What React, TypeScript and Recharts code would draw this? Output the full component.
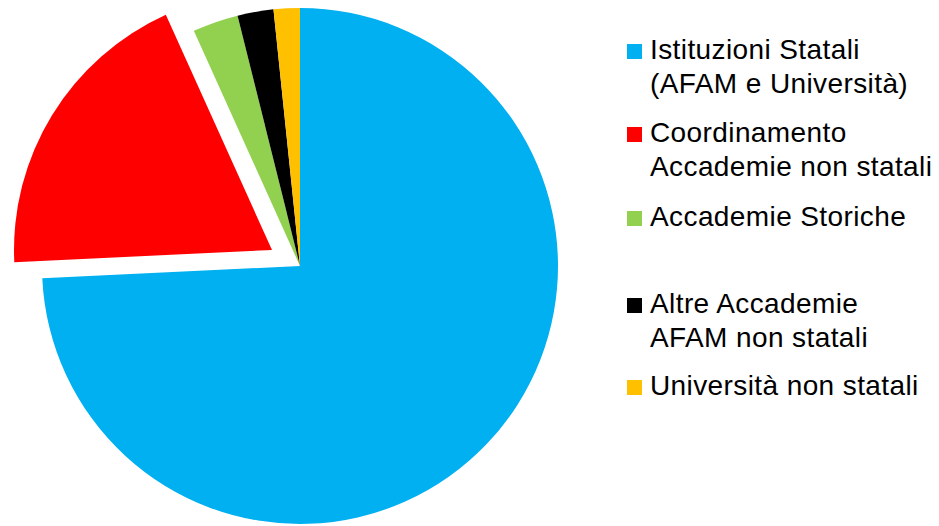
import React from 'react';
import { PieChart, Pie, Cell } from 'recharts';

const categories = [
  'Istituzioni Statali (AFAM e Università)',
  'Coordinamento Accademie non statali',
  'Accademie Storiche',
  'Altre Accademie AFAM non statali',
  'Università non statali',
];

// legend labels as they wrap in the original
const legendLines = [
  ['Istituzioni Statali', '(AFAM e Università)'],
  ['Coordinamento', 'Accademie non statali'],
  ['Accademie Storiche'],
  ['Altre Accademie', 'AFAM non statali'],
  ['Università non statali'],
];

const shares = [74.25, 19.0, 2.86, 2.25, 1.64];

const colors = ['#00B0F0', '#FF0000', '#92D050', '#000000', '#FFC000'];

// the exploded slice
const explodedIndex = 1;

const data = categories.map((name, i) => ({ name, value: shares[i] }));

// top of each legend row, px
const legendTops = [33, 116, 200, 287, 369];

const font = '"Liberation Sans", Arial, sans-serif';

export default function App() {
  return (
    <div style={{ position: 'relative', width: 939, height: 526, background: '#fff' }}>
      <style>{'body{margin:0}'}</style>
      <PieChart width={939} height={526} margin={{ top: 0, right: 0, bottom: 0, left: 0 }}>
        <Pie
          data={data}
          dataKey="value"
          nameKey="name"
          cx={300}
          cy={266}
          outerRadius={258}
          startAngle={90}
          endAngle={-270}
          stroke="none"
          isAnimationActive={false}
        >
          {data.map((d, i) => (
            <Cell key={d.name} fill={i === explodedIndex ? 'transparent' : colors[i]} />
          ))}
        </Pie>
        {/* same pie, shifted out along the red slice's middle */}
        <Pie
          data={data}
          dataKey="value"
          nameKey="name"
          cx={272}
          cy={250}
          outerRadius={258}
          startAngle={90}
          endAngle={-270}
          stroke="none"
          isAnimationActive={false}
        >
          {data.map((d, i) => (
            <Cell key={d.name} fill={i === explodedIndex ? colors[i] : 'transparent'} />
          ))}
        </Pie>
      </PieChart>

      {legendLines.map((lines, i) => (
        <div
          key={categories[i]}
          style={{
            position: 'absolute',
            left: 627,
            top: legendTops[i],
            fontFamily: font,
            fontSize: 28,
            lineHeight: '34px',
            letterSpacing: 0.4,
            color: '#000',
            whiteSpace: 'nowrap',
          }}
        >
          <div
            style={{
              position: 'absolute',
              left: 0,
              top: 11,
              width: 15,
              height: 15,
              background: colors[i],
            }}
          />
          <div style={{ marginLeft: 23 }}>
            {lines.map((l) => (
              <div key={l}>{l}</div>
            ))}
          </div>
        </div>
      ))}
    </div>
  );
}
